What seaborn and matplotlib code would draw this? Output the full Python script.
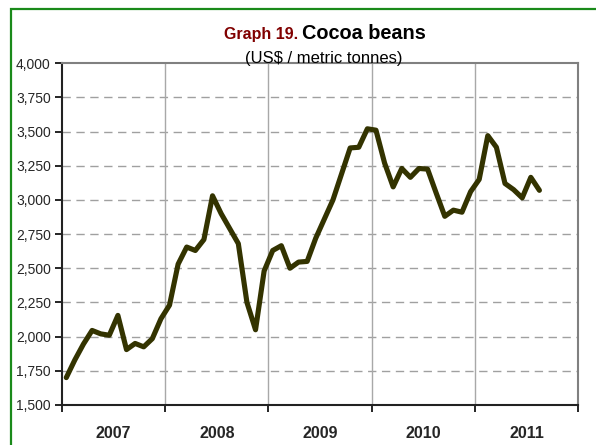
"""Cocoa beans monthly price, 2007-2011 (Graph 19)."""

import matplotlib

matplotlib.use("Agg")
import matplotlib.pyplot as plt
import numpy as np
import pandas as pd
import seaborn as sns
from matplotlib.patches import Rectangle

YEARS = ["2007", "2008", "2009", "2010", "2011"]

# monthly prices, Jan 2007 .. Aug 2011 (US$ / metric tonne)
PRICE_2007 = [1700, 1830, 1946, 2045, 2020, 2010, 2155, 1905, 1950, 1925, 1985, 2130]
PRICE_2008 = [2230, 2530, 2655, 2630, 2710, 3030, 2900, 2790, 2680, 2250, 2050, 2480]
PRICE_2009 = [2630, 2665, 2500, 2545, 2550, 2720, 2860, 3000, 3190, 3380, 3385, 3520]
PRICE_2010 = [3510, 3270, 3095, 3230, 3165, 3230, 3225, 3050, 2880, 2925, 2910, 3060]
PRICE_2011 = [3150, 3470, 3385, 3120, 3075, 3015, 3165, 3070]

prices = PRICE_2007 + PRICE_2008 + PRICE_2009 + PRICE_2010 + PRICE_2011
df = pd.DataFrame({"month": np.arange(len(prices)) + 0.5, "price": prices})

sns.set_theme(style="white")
plt.rcParams["font.family"] = ["Liberation Sans", "DejaVu Sans"]

fig = plt.figure(figsize=(5.96, 4.45), dpi=100)
ax = fig.add_axes([0.104, 0.090, 0.866, 0.768])

# green frame round the chart
fig.patches.append(
    Rectangle((11 / 596, -0.05), 1.2, 1 - 9 / 445 + 0.05, transform=fig.transFigure,
              fill=False, edgecolor="#1a8a1a", linewidth=1.6)
)

sns.lineplot(data=df, x="month", y="price", color="#333300", linewidth=3.7,
             solid_capstyle="round", solid_joinstyle="round", ax=ax)

ax.set_xlim(0, 60)
ax.set_ylim(1500, 4000)
ax.set_yticks(np.arange(1500, 4001, 250))
ax.set_yticklabels([f"{v:,}" for v in range(1500, 4001, 250)], fontsize=10)
ax.set_xticks(np.arange(0, 61, 12))
ax.set_xticklabels([])
ax.set_xticks(np.arange(6, 60, 12), minor=True)
ax.set_xticklabels(YEARS, minor=True, fontsize=11.5, fontweight="bold")
ax.tick_params(axis="x", which="minor", length=0, pad=15)
ax.tick_params(axis="x", which="major", direction="out", length=5, width=1.2,
               color="black", bottom=True)
ax.tick_params(axis="y", direction="out", length=5, width=1.2, color="black",
               left=True, pad=3)

for y in range(1750, 4000, 250):
    ax.axhline(y, color="#a0a0a0", linestyle=(0, (6, 4)), linewidth=1.0, zorder=0)
for x in range(12, 60, 12):
    ax.axvline(x, color="#a8a8a8", linewidth=1.0, zorder=0)

ax.set_xlabel("")
ax.set_ylabel("")
for side in ["top", "right"]:
    ax.spines[side].set_color("#808080")
    ax.spines[side].set_linewidth(1.5)
for side in ["left", "bottom"]:
    ax.spines[side].set_color("#222222")
    ax.spines[side].set_linewidth(1.5)

fig.text(0.500, 0.912, "Graph 19.", ha="right", va="baseline", color="#800000",
         fontsize=11.5, fontweight="bold")
fig.text(0.507, 0.912, "Cocoa beans", ha="left", va="baseline", color="black",
         fontsize=14.3, fontweight="bold")
fig.text(0.544, 0.869, "(US$ / metric tonnes)", ha="center", va="center",
         color="black", fontsize=12)

fig.savefig("out.png", dpi=100)
